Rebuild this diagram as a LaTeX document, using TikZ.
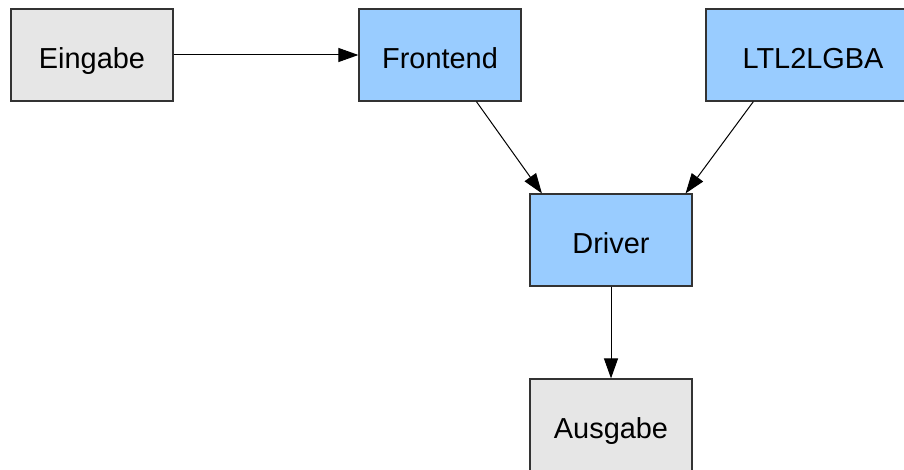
\documentclass[tikz,border=0pt]{standalone}
\usepackage{fontspec}
\setmainfont{Liberation Sans}
\usetikzlibrary{arrows.meta}
\definecolor{grayfill}{HTML}{E6E6E6}
\definecolor{bluefill}{HTML}{99CCFF}
\definecolor{boxline}{HTML}{333333}
\begin{document}
\begin{tikzpicture}[x=1pt,y=-1pt,
  block/.style={draw=boxline, line width=1.2pt, minimum width=162pt, minimum height=92pt,
    inner sep=0pt, text height=26.5pt, text depth=0pt,
    font=\fontsize{28.9}{34}\selectfont},
  io/.style={block, fill=grayfill},
  stage/.style={block, fill=bluefill},
  flow/.style={draw=black, line width=1pt, -{Triangle[length=20pt,width=14pt]}}]
  \useasboundingbox (0,0) rectangle (904,470);
  \clip (0,0) rectangle (904,470);

  \node[io] (ein) at (92,55) {Eingabe};
  \node[stage] (front) at (440,55) {Frontend};
  \node[stage, minimum width=214pt] (ltl) at (813,55) {LTL2LGBA};
  \node[stage] (drv) at (611,240) {Driver};
  \node[io] (aus) at (611,425) {Ausgabe};

  \draw[flow] (ein) -- (front);
  \draw[flow] (front.-52.7) -- (drv.146);
  \draw[flow] (ltl.-142.5) -- (drv.32);
  \draw[flow, xshift=2pt] (drv.south) -- (aus.north);
\end{tikzpicture}
\end{document}
